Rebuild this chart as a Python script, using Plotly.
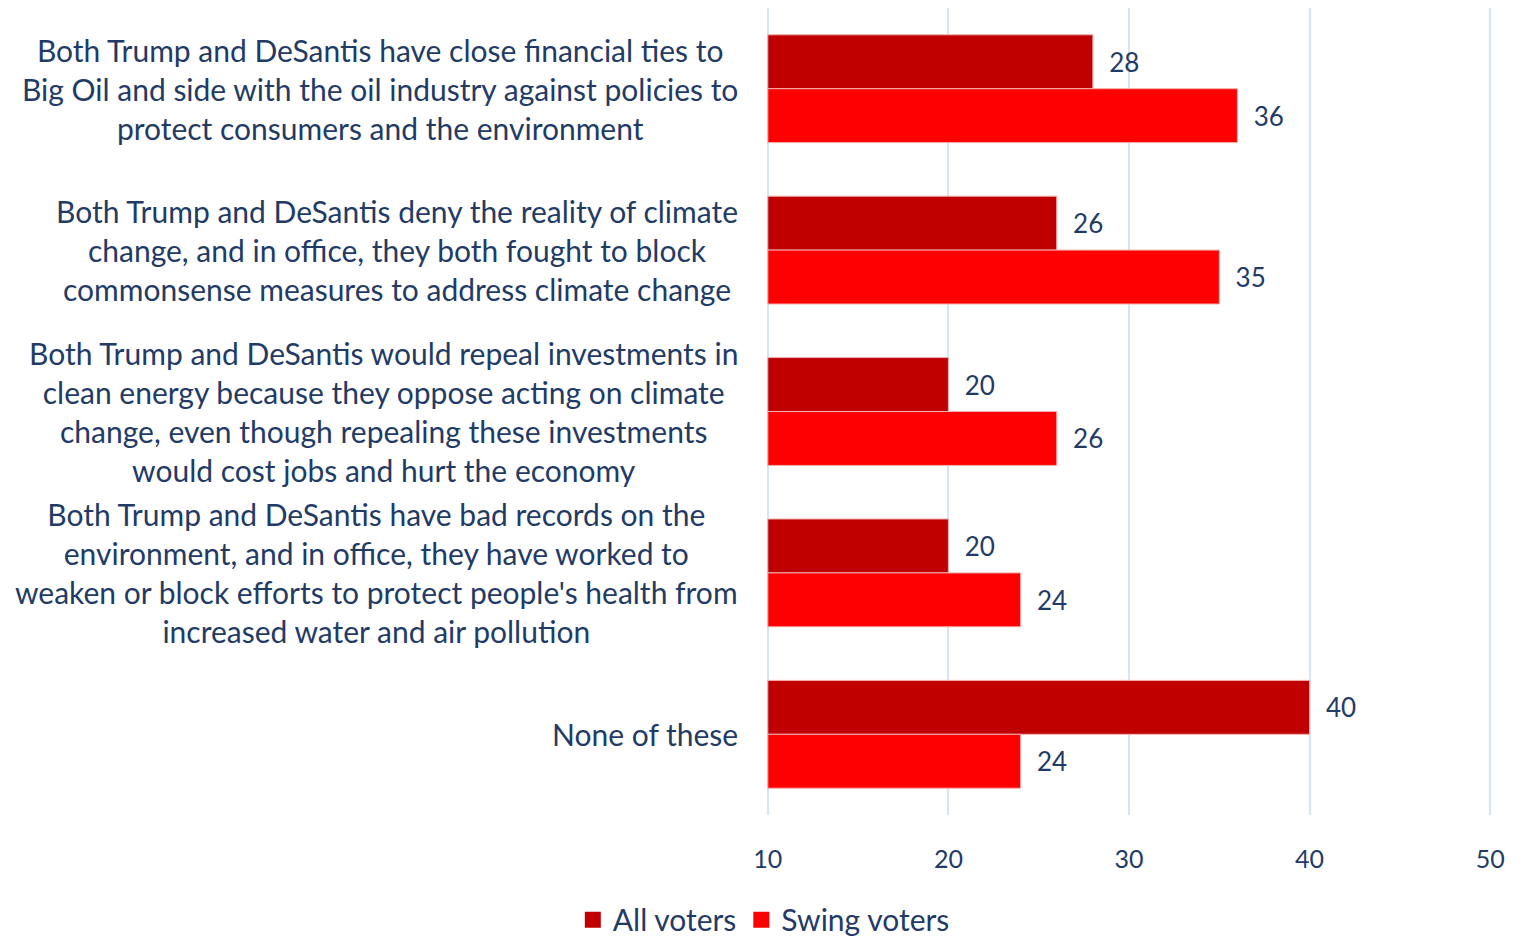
import plotly.graph_objects as go

categories = [
    "Both Trump and DeSantis have close financial ties to<br>Big Oil and side with the oil industry against policies to<br>protect consumers and the environment",
    "Both Trump and DeSantis deny the reality of climate<br>change, and in office, they both fought to block<br>commonsense measures to address climate change",
    "Both Trump and DeSantis would repeal investments in<br>clean energy because they oppose acting on climate<br>change, even though repealing these investments<br>would cost jobs and hurt the economy",
    "Both Trump and DeSantis have bad records on the<br>environment, and in office, they have worked to<br>weaken or block efforts to protect people's health from<br>increased water and air pollution",
    "None of these",
]
keys = ["c1", "c2", "c3", "c4", "c5"]
all_voters = [28, 26, 20, 20, 40]
swing_voters = [36, 35, 26, 24, 24]
x_ticks = [10, 20, 30, 40, 50]
axis_min = 10
series_names = ["All voters", "Swing voters"]
series_colors = ["#C00000", "#FF0000"]

FONT = "Lato"
NAVY = "#1F3B66"

fig = go.Figure()
for name, vals, col in zip(series_names, [all_voters, swing_voters], series_colors):
    fig.add_trace(go.Bar(
        name=name, y=keys, x=[v - axis_min for v in vals], base=axis_min,
        orientation="h", showlegend=False,
        marker=dict(color=col, line=dict(color="#F0B0B0", width=1)),
        text=vals, texttemplate="\u00a0\u00a0%{text}", textposition="outside",
        textfont=dict(family=FONT, size=26, color=NAVY), cliponaxis=False,
    ))
# legend entries with larger square swatches
for name, col in zip(series_names, series_colors):
    fig.add_trace(go.Scatter(
        name=name, x=[None], y=[None], mode="markers",
        marker=dict(symbol="square", size=18, color=col), showlegend=True,
    ))

for k, lab in zip(keys, categories):
    fig.add_annotation(
        x=0, xref="paper", y=k, yref="y", text=lab, showarrow=False,
        xanchor="right", yanchor="middle", align="center", xshift=-26,
        font=dict(family=FONT, size=30, color=NAVY),
    )

fig.update_layout(
    width=1530, height=937,
    margin=dict(l=758.2, r=46.2, t=0, b=130),
    paper_bgcolor="white", plot_bgcolor="white",
    barmode="group", bargap=0.332, bargroupgap=0,
    font=dict(family=FONT, color=NAVY),
    legend=dict(
        orientation="h", x=0.494, xref="container", xanchor="center",
        y=0.027, yref="container", yanchor="middle",
        font=dict(family=FONT, size=30, color=NAVY),
        itemwidth=30, traceorder="normal", itemsizing="trace",
    ),
    xaxis=dict(
        range=[9.9, 50.1], tickvals=x_ticks, showgrid=True,
        gridcolor="#D6E4F4", gridwidth=2, zeroline=False,
        showline=False, ticks="", ticklabelstandoff=27,
        tickfont=dict(family=FONT, size=25, color=NAVY),
    ),
    yaxis=dict(
        autorange="reversed", showticklabels=False, showgrid=False,
        zeroline=False, showline=False, ticks="",
    ),
)

fig.write_html("out.html")
